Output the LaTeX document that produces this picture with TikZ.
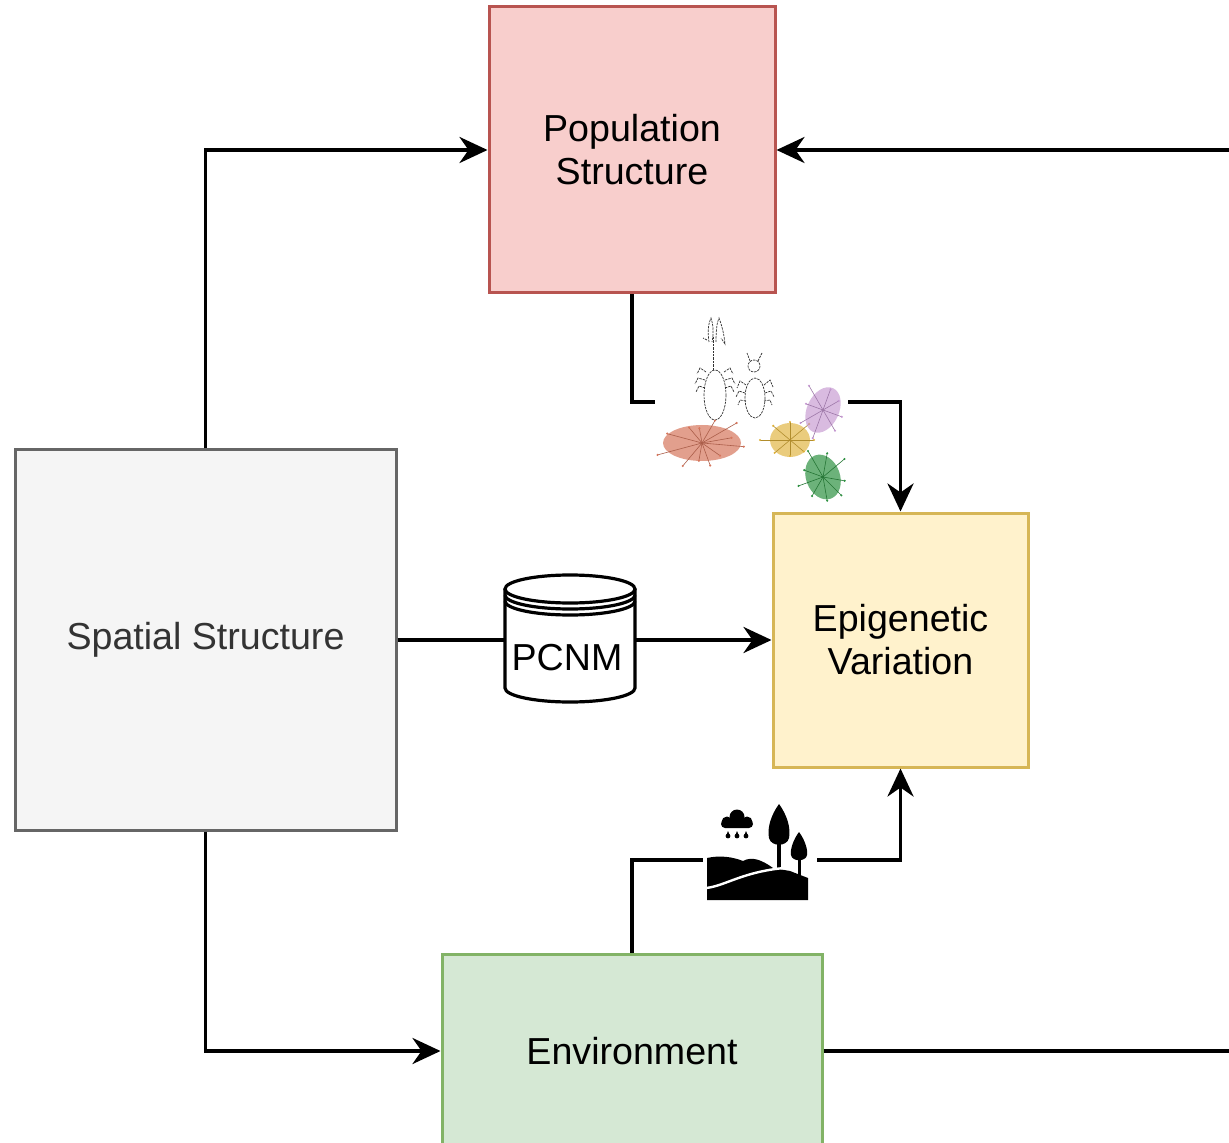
\documentclass[tikz,border=0pt]{standalone}
\usepackage{fontspec}
\setmainfont{Liberation Sans}
\usetikzlibrary{arrows.meta}
\definecolor{popfill}{HTML}{F8CECC}\definecolor{popdraw}{HTML}{B85450}
\definecolor{spafill}{HTML}{F5F5F5}\definecolor{spadraw}{HTML}{666666}
\definecolor{epifill}{HTML}{FFF2CC}\definecolor{epidraw}{HTML}{D6B656}
\definecolor{envfill}{HTML}{D5E8D4}\definecolor{envdraw}{HTML}{82B366}
\definecolor{spatext}{HTML}{333333}
\definecolor{clred}{RGB}{214,118,92}
\definecolor{clyel}{RGB}{222,176,56}
\definecolor{clpur}{RGB}{196,150,208}
\definecolor{clgrn}{RGB}{46,146,66}
\tikzset{
  box/.style={draw, line width=1.5pt, inner sep=0pt, align=center,
    font=\fontsize{18.8}{21.5}\selectfont},
  link/.style={line width=1.9pt, draw=black},
  tip/.style={-{Stealth[length=14pt,width=13pt,inset=4.5pt]}},
  bug/.style={draw=black!80, line width=0.35pt, dash pattern=on 1.2pt off 0.5pt},
  ray/.style={line width=0.3pt},
}
\begin{document}
\begin{tikzpicture}[x=0.5pt,y=-0.5pt]
\useasboundingbox (0,0) rectangle (1229,1143);
\clip (0,0) rectangle (1229,1143);

% main boxes
\node[box, fill=popfill, draw=popdraw, minimum width=143pt, minimum height=143pt]
  (pop) at (632,150) {Population\\Structure};
\node[box, fill=spafill, draw=spadraw, text=spatext, minimum width=190.5pt, minimum height=190pt]
  (spa) at (205.5,640) {Spatial Structure};
\node[box, fill=epifill, draw=epidraw, minimum width=127.5pt, minimum height=127pt]
  (epi) at (900.5,640) {Epigenetic\\Variation};
\node[box, fill=envfill, draw=envdraw, minimum width=190pt, minimum height=97pt]
  (env) at (632,1051) {Environment};

% placeholders for the icons sitting on the connectors
\node[inner sep=0pt, minimum width=96.5pt, minimum height=10pt] (popicon) at (751.5,402) {};
\node[inner sep=0pt, minimum width=57pt, minimum height=10pt] (landicon) at (760,860) {};
\node[inner sep=0pt, minimum width=65pt, minimum height=64pt] (pcnm) at (570,640) {};

% connectors
\draw[link, tip] (spa.north) |- (pop.west);
\draw[link, tip] (spa.south) |- (env.west);
\draw[link] (spa.east) -- (pcnm.west);
\draw[link, tip] (pcnm.east) -- (epi.west);
\draw[link] (pop.south) |- (popicon.west);
\draw[link, tip] (popicon.east) -| (epi.north);
\draw[link] (env.north) |- (landicon.west);
\draw[link, tip] (landicon.east) -| (epi.south);
\coordinate (loopb) at (1300,1051);
\coordinate (loopt) at (1300,150);
\draw[link, tip] (env.east) -- (loopb) -- (loopt) -- (pop.east);

% PCNM data store
\begin{scope}[line width=1.6pt]
  \fill[white] (505,589) -- (505,688) arc[start angle=180, end angle=0, x radius=65, y radius=14]
    -- (635,589) arc[start angle=0, end angle=-180, x radius=65, y radius=14] -- cycle;
  \draw (505,589) -- (505,688) arc[start angle=180, end angle=0, x radius=65, y radius=14] -- (635,589);
  \draw (570,589) ellipse[x radius=65, y radius=14];
  \draw (505,595) arc[start angle=180, end angle=0, x radius=65, y radius=14];
  \draw (505,601) arc[start angle=180, end angle=0, x radius=65, y radius=14];
\end{scope}
\node[font=\fontsize{18.8}{21.5}\selectfont, inner sep=0pt] at (567,658) {PCNM};

% population icon: two insects and coloured clusters
\begin{scope}
  % insect with antenna stalk
  \draw[bug] (715,395) ellipse[x radius=11, y radius=25];
  \draw[bug] (713,370) -- (713,336);
  \draw[bug] (709,342) .. controls (707,330) and (709,322) .. (711,318) .. controls (713,324) and (714,332) .. (712,342);
  \draw[bug] (716,342) .. controls (716,330) and (717,322) .. (719,318) .. controls (722,326) and (724,334) .. (725,344) -- (721,338);
  \draw[bug] (707,340) -- (703,338);
  \draw[bug] (706,372) -- (700,368) -- (697,374) (705,380) -- (698,378) -- (695,384) (705,388) -- (699,386) -- (696,392);
  \draw[bug] (724,372) -- (730,368) -- (733,374) (725,380) -- (732,378) -- (735,384) (725,388) -- (731,386) -- (734,392);
  % second insect
  \draw[bug] (755,398) ellipse[x radius=10, y radius=20];
  \draw[bug] (754,366) circle[radius=6];
  \draw[bug] (750,361) -- (747,353) (758,361) -- (762,353);
  \draw[bug] (746,385) -- (740,381) -- (737,388) (745,393) -- (739,391) -- (736,397) (746,401) -- (740,400) -- (738,405);
  \draw[bug] (764,385) -- (770,380) -- (773,387) (765,393) -- (771,391) -- (774,397) (764,401) -- (770,400) -- (772,405);
  % red cluster
  \fill[clred, opacity=0.7] (702,443) ellipse[x radius=39, y radius=18];
  \foreach \a/\r in {5/42,35/22,70/24,100/18,130/30,165/46,195/36,230/20,260/15,300/26,330/40,350/30}
    {\draw[clred!80!black, ray] (702,443) -- ++(\a:\r);
     \fill[clred] (702,443) ++(\a:\r) circle[radius=1.2];}
  % yellow cluster
  \fill[clyel, opacity=0.65] (790,440) ellipse[x radius=20, y radius=17];
  \foreach \a/\r in {0/24,40/18,90/16,140/20,180/30,220/22,270/18,320/25}
    {\draw[clyel!80!black, ray] (790,440) -- ++(\a:\r);
     \fill[clyel] (790,440) ++(\a:\r) circle[radius=1.2];}
  % purple cluster
  \fill[clpur, opacity=0.65, rotate around={-25:(823,410)}] (823,410) ellipse[x radius=16, y radius=24];
  \foreach \a/\r in {20/20,60/24,110/30,150/26,200/18,240/28,290/22,330/18}
    {\draw[clpur!80!black, ray] (823,410) -- ++(\a:\r);
     \fill[clpur] (823,410) ++(\a:\r) circle[radius=1.2];}
  % green cluster
  \fill[clgrn, opacity=0.7, rotate around={20:(823,477)}] (823,477) ellipse[x radius=17, y radius=23];
  \foreach \a/\r in {10/22,45/26,80/24,120/22,160/26,200/20,240/30,280/24,320/28}
    {\draw[clgrn!80!black, ray] (823,477) -- ++(\a:\r);
     \fill[clgrn] (823,477) ++(\a:\r) circle[radius=1.2];}
\end{scope}

% landscape icon: rain cloud, hills and trees
\begin{scope}
  \fill (727,822) circle[radius=5.5];
  \fill (737,817) circle[radius=7.5];
  \fill (747,822) circle[radius=5.5];
  \fill[rounded corners=2pt] (721,820) rectangle (753,828);
  \foreach \dx in {728,737,746}
    \fill (\dx,836) circle[radius=2.4] (\dx-2,836) -- (\dx,831) -- (\dx+2,836) -- cycle;
  \fill (779,804) .. controls (771,815) and (767,828) .. (769,838)
    .. controls (771,847) and (787,847) .. (789,838)
    .. controls (791,828) and (787,815) .. (779,804) -- cycle;
  \fill (777,840) rectangle (781,874);
  \fill (799,832) .. controls (793,840) and (790,850) .. (791,855)
    .. controls (792,862) and (806,862) .. (807,855)
    .. controls (808,850) and (805,840) .. (799,832) -- cycle;
  \fill (797.5,855) rectangle (800.5,876);
  \fill (707,900) -- (707,858) .. controls (720,855) and (733,857) .. (743,861)
    .. controls (752,856) and (762,860) .. (773,868) -- (790,871) -- (808,878)
    -- (808,900) -- cycle;
  \draw[white, line width=1.2pt] (706,888) .. controls (725,886) and (742,872) .. (784,868);
\end{scope}
\end{tikzpicture}
\end{document}
